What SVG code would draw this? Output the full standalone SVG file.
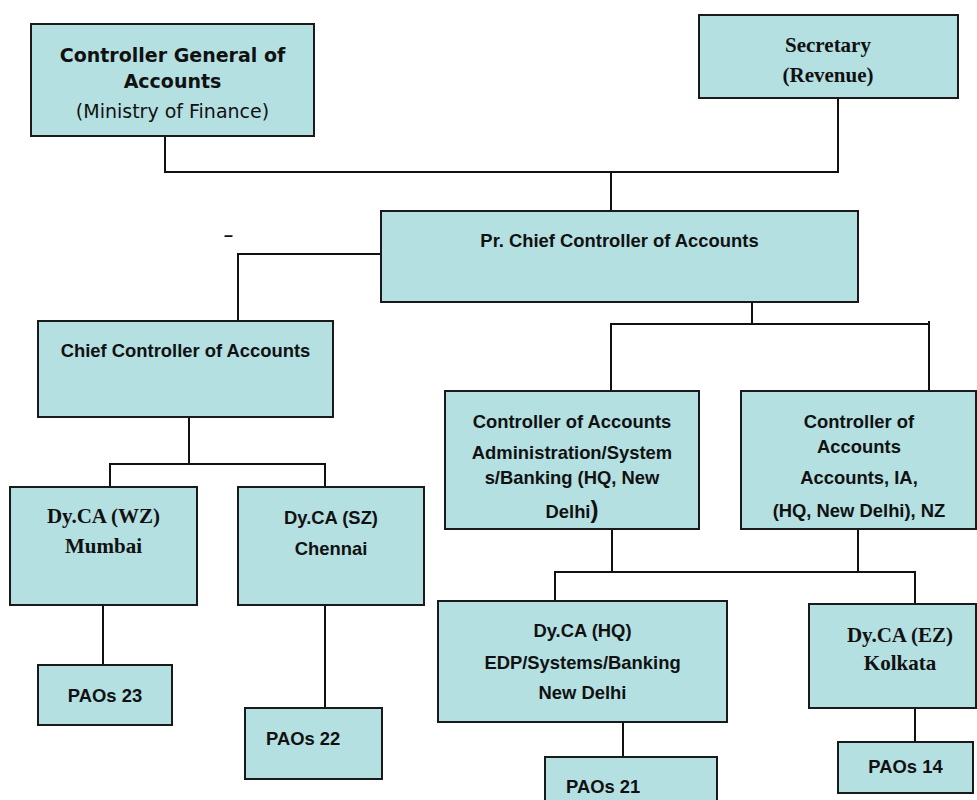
<svg xmlns="http://www.w3.org/2000/svg" width="977" height="800" viewBox="0 0 977 800">
<style>
.box{fill:#b4e0e2;stroke:#1a1a1a;stroke-width:2}
.ln{fill:none;stroke:#111;stroke-width:2}
.cal{font-family:"Liberation Sans",Arial,sans-serif;font-weight:bold;font-size:18.4px;fill:#111}
.tms{font-family:"Liberation Serif","Times New Roman",serif;font-weight:bold;font-size:21px;fill:#111}
.tah{font-family:"DejaVu Sans",Verdana,sans-serif;font-size:19px;fill:#111}
.c{text-anchor:middle}
</style>
<rect width="977" height="800" fill="#ffffff"/>
<g id="connectors">
<polyline class="ln" points="165,120 165,172 838,172 838,98"/>
<line class="ln" x1="611" y1="172" x2="611" y2="211"/>
<polyline class="ln" points="381,254 238,254 238,321"/>
<line class="ln" x1="189" y1="417" x2="189" y2="464"/>
<polyline class="ln" points="110,487 110,464 325,464 325,487"/>
<line class="ln" x1="103" y1="605" x2="103" y2="665"/>
<line class="ln" x1="325" y1="605" x2="325" y2="708"/>
<line class="ln" x1="752" y1="302" x2="752" y2="324"/>
<polyline class="ln" points="611,393 611,324 929,324"/>
<line class="ln" x1="929" y1="321" x2="929" y2="391"/>
<line class="ln" x1="612" y1="529" x2="612" y2="572"/>
<line class="ln" x1="858" y1="529" x2="858" y2="572"/>
<polyline class="ln" points="555,601 555,572 915,572 915,604"/>
<line class="ln" x1="623" y1="722" x2="623" y2="759"/>
<line class="ln" x1="915" y1="706" x2="915" y2="742"/>
</g>
<text class="cal c" x="228.5" y="241" style="font-size:16px">–</text>
<g id="cga">
<rect class="box" x="31" y="24" width="283" height="112"/>
<text class="tah c" x="172.5" y="62" font-weight="bold">Controller General of</text>
<text class="tah c" x="172.5" y="88" font-weight="bold">Accounts</text>
<text class="tah c" x="172.5" y="118">(Ministry of Finance)</text>
</g>
<g id="secretary">
<rect class="box" x="699" y="15" width="259" height="83"/>
<text class="tms c" x="828" y="52">Secretary</text>
<text class="tms c" x="828" y="82">(Revenue)</text>
</g>
<g id="prcca">
<rect class="box" x="381" y="211" width="477" height="91"/>
<text class="cal c" x="619.5" y="247">Pr. Chief Controller of Accounts</text>
</g>
<g id="cca">
<rect class="box" x="38" y="321" width="295" height="96"/>
<text class="cal c" x="185.5" y="357">Chief Controller of Accounts</text>
</g>
<g id="wz">
<rect class="box" x="10" y="487" width="187" height="118"/>
<text class="tms c" x="103.5" y="523">Dy.CA (WZ)</text>
<text class="tms c" x="103.5" y="553">Mumbai</text>
</g>
<g id="sz">
<rect class="box" x="238" y="487" width="186" height="118"/>
<text class="cal c" x="331" y="524">Dy.CA (SZ)</text>
<text class="cal c" x="331" y="555">Chennai</text>
</g>
<g id="pao23">
<rect class="box" x="38" y="665" width="134" height="60"/>
<text class="cal c" x="105" y="702">PAOs 23</text>
</g>
<g id="pao22">
<rect class="box" x="245" y="708" width="137" height="71"/>
<text class="cal" x="266" y="745">PAOs 22</text>
</g>
<g id="ca-admin">
<rect class="box" x="445" y="391" width="254" height="138"/>
<text class="cal c" x="572" y="428">Controller of Accounts</text>
<text class="cal c" x="572" y="459">Administration/System</text>
<text class="cal c" x="572" y="484">s/Banking (HQ, New</text>
<text class="cal c" x="572" y="518">Delhi<tspan style="font-size:24px">)</tspan></text>
</g>
<g id="ca-accounts">
<rect class="box" x="741" y="391" width="235" height="138"/>
<text class="cal c" x="859" y="428">Controller of</text>
<text class="cal c" x="859" y="453">Accounts</text>
<text class="cal c" x="859" y="484">Accounts, IA,</text>
<text class="cal c" x="859" y="517">(HQ, New Delhi), NZ</text>
</g>
<g id="hq">
<rect class="box" x="438" y="601" width="289" height="121"/>
<text class="cal c" x="582.5" y="637">Dy.CA (HQ)</text>
<text class="cal c" x="582.5" y="669">EDP/Systems/Banking</text>
<text class="cal c" x="582.5" y="699">New Delhi</text>
</g>
<g id="ez">
<rect class="box" x="809" y="604" width="167" height="104"/>
<text class="tms c" x="900" y="642">Dy.CA (EZ)</text>
<text class="tms c" x="900" y="670">Kolkata</text>
</g>
<g id="pao21">
<rect class="box" x="545" y="757" width="172" height="60"/>
<text class="cal" x="566" y="793">PAOs 21</text>
</g>
<g id="pao14">
<rect class="box" x="838" y="742" width="135" height="51"/>
<text class="cal c" x="905.5" y="773">PAOs 14</text>
</g>
</svg>
